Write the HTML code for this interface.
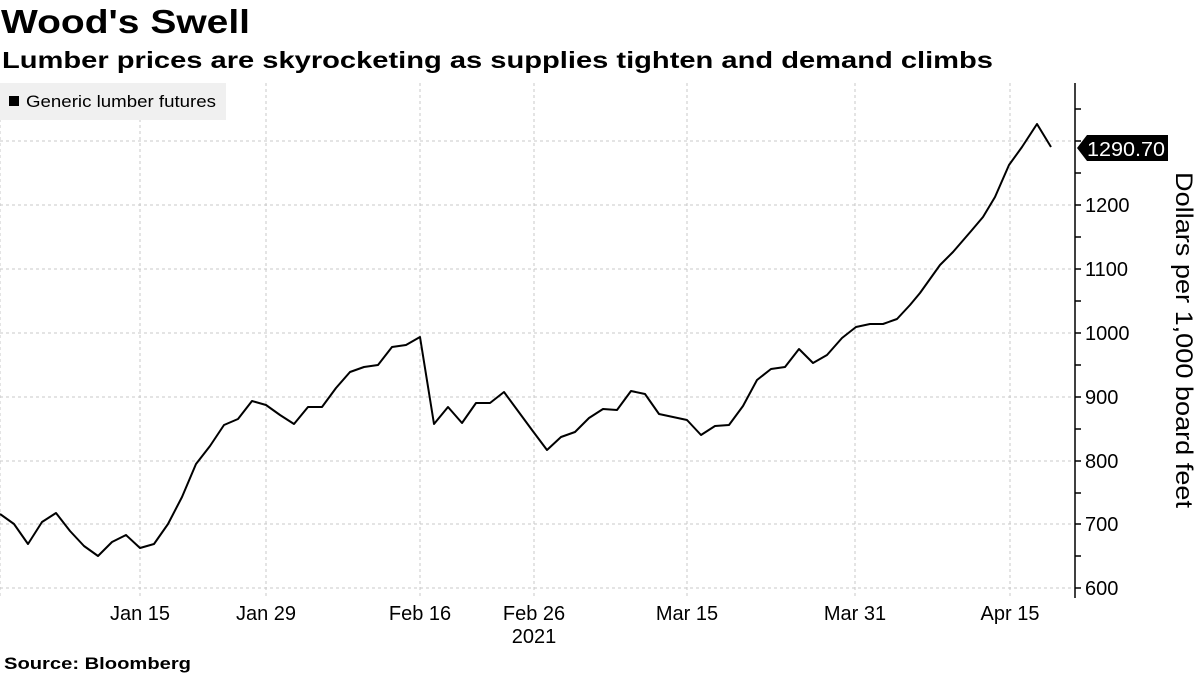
<!DOCTYPE html>
<html><head><style>
body{margin:0;background:#fff;width:1200px;height:675px;overflow:hidden;font-family:"Liberation Sans",sans-serif}
</style></head><body>
<svg width="1200" height="675" xmlns="http://www.w3.org/2000/svg" font-family="Liberation Sans, sans-serif">
<text x="1" y="33" font-size="33" font-weight="bold" textLength="249" lengthAdjust="spacingAndGlyphs">Wood's Swell</text>
<text x="2" y="68" font-size="23" font-weight="bold" textLength="991" lengthAdjust="spacingAndGlyphs">Lumber prices are skyrocketing as supplies tighten and demand climbs</text>
<g stroke="#c8c8c8" stroke-dasharray="3,3" stroke-width="1">
<line x1="0" x2="1073" y1="141" y2="141"/><line x1="0" x2="1073" y1="205" y2="205"/>
<line x1="0" x2="1073" y1="269" y2="269"/><line x1="0" x2="1073" y1="333" y2="333"/>
<line x1="0" x2="1073" y1="397" y2="397"/><line x1="0" x2="1073" y1="461" y2="461"/>
<line x1="0" x2="1073" y1="524" y2="524"/><line x1="0" x2="1073" y1="588" y2="588"/>
<line x1="140" x2="140" y1="83" y2="598"/><line x1="266" x2="266" y1="83" y2="598"/>
<line x1="420" x2="420" y1="83" y2="598"/><line x1="534" x2="534" y1="83" y2="598"/>
<line x1="687" x2="687" y1="83" y2="598"/><line x1="855" x2="855" y1="83" y2="598"/>
<line x1="1010" x2="1010" y1="83" y2="598"/><line x1="0" x2="0" y1="83" y2="598"/>
</g>
<rect x="0" y="83" width="226" height="37" fill="#f0f0f0"/>
<rect x="9" y="96" width="10" height="10" fill="#000"/>
<text x="26" y="107" font-size="17" textLength="190" lengthAdjust="spacingAndGlyphs">Generic lumber futures</text>
<polyline fill="none" stroke="#000" stroke-width="2" stroke-linejoin="round" points="0,514 14,524 28,544 42,522 56,513 70,531 84,546 98,556 112,542 126,535 140,548 154,544 168,524 182,497 196,464 210,446 224,425 238,419 252,401 266,405 280,415 294,424 308,407 322,407 336,388 350,372 364,367 378,365 392,347 406,345 420,337 434,424 448,407 462,423 476,403 490,403 504,392 518,411 532,430 547,450 561,437 575,432 589,418 603,409 617,410 631,391 645,394 659,414 673,417 687,420 701,435 715,426 729,425 743,406 757,380 771,369 785,367 799,349 813,363 827,355 842,338 856,327 870,324 883,324 897,319 910,305 920,293 940,265 953,252 972,230 983,217 995,197 1009,165 1022,147 1037,124 1051,147"/>
<line x1="1075" x2="1075" y1="83" y2="598" stroke="#000" stroke-width="1.5"/>
<g stroke="#000" stroke-width="1.5">
<line x1="1075" x2="1081" y1="109" y2="109"/><line x1="1075" x2="1081" y1="141" y2="141"/><line x1="1075" x2="1081" y1="173" y2="173"/>
<line x1="1075" x2="1081" y1="205" y2="205"/><line x1="1075" x2="1081" y1="237" y2="237"/><line x1="1075" x2="1081" y1="269" y2="269"/>
<line x1="1075" x2="1081" y1="301" y2="301"/><line x1="1075" x2="1081" y1="333" y2="333"/><line x1="1075" x2="1081" y1="365" y2="365"/>
<line x1="1075" x2="1081" y1="397" y2="397"/><line x1="1075" x2="1081" y1="429" y2="429"/><line x1="1075" x2="1081" y1="461" y2="461"/>
<line x1="1075" x2="1081" y1="493" y2="493"/><line x1="1075" x2="1081" y1="524" y2="524"/><line x1="1075" x2="1081" y1="556" y2="556"/>
<line x1="1075" x2="1081" y1="588" y2="588"/>
</g>
<g font-size="20" fill="#000">
<text x="1085" y="212">1200</text><text x="1085" y="276">1100</text><text x="1085" y="340">1000</text>
<text x="1085" y="404">900</text><text x="1085" y="468">800</text><text x="1085" y="531">700</text><text x="1085" y="595">600</text>
</g>
<polygon points="1077,148 1087,135 1168,135 1168,161 1087,161" fill="#000"/>
<text x="1087" y="156" font-size="20" fill="#fff" textLength="78" lengthAdjust="spacingAndGlyphs">1290.70</text>
<text transform="translate(1176,340) rotate(90)" text-anchor="middle" font-size="24" textLength="336" lengthAdjust="spacingAndGlyphs">Dollars per 1,000 board feet</text>
<g font-size="20" text-anchor="middle">
<text x="140" y="620">Jan 15</text><text x="266" y="620">Jan 29</text><text x="420" y="620">Feb 16</text>
<text x="534" y="620">Feb 26</text><text x="687" y="620">Mar 15</text><text x="855" y="620">Mar 31</text>
<text x="1010" y="620">Apr 15</text><text x="534" y="643">2021</text>
</g>
<text x="4" y="669" font-size="17" font-weight="bold" textLength="187" lengthAdjust="spacingAndGlyphs">Source: Bloomberg</text>
</svg>
</body></html>
